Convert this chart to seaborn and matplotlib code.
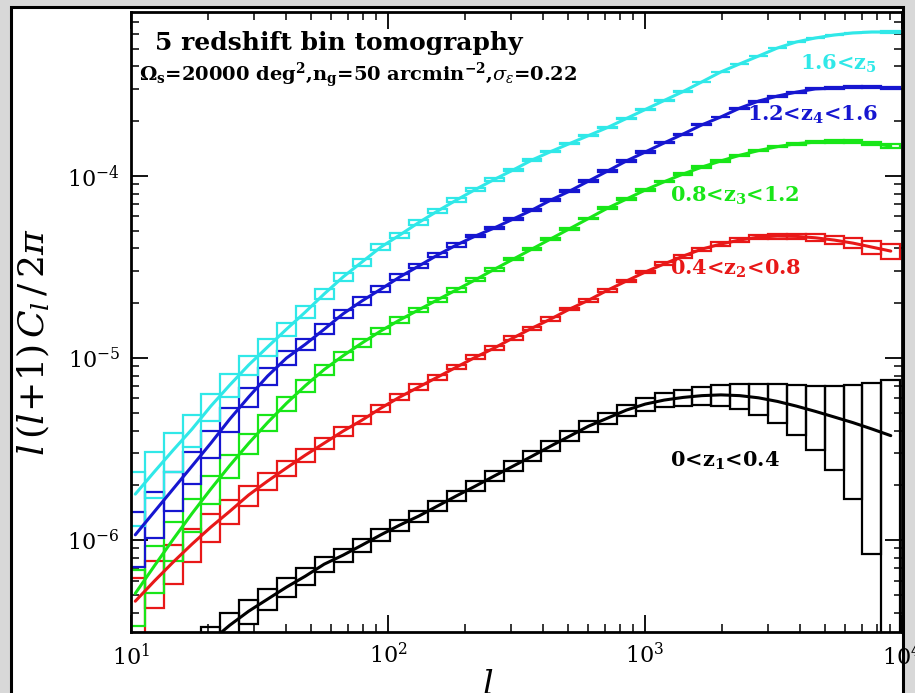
import numpy as np
import pandas as pd
import matplotlib
matplotlib.use("Agg")
import matplotlib.pyplot as plt
import seaborn as sns
from matplotlib.patches import Rectangle

# ---------------- data ----------------
# multipole bin edges (log-spaced bins)
l_edges = [9.55, 11.31, 13.40, 15.87, 18.79, 22.26, 26.36, 31.22, 36.98, 43.80,
           51.87, 61.43, 72.76, 86.18, 102.1, 120.9, 143.2, 169.6, 200.9, 237.9,
           281.8, 333.7, 395.3, 468.2, 554.5, 656.8, 777.7, 921.0, 1091, 1292,
           1530, 1812, 2147, 2542, 3011, 3566, 4224, 5001, 5923, 7016,
           8309, 9842]

# l(l+1)C_l/2pi per bin, for each redshift bin
cl_z1 = [1.24e-7, 1.52e-7, 1.86e-7, 2.28e-7, 2.79e-7, 3.41e-7, 4.07e-7, 4.74e-7, 5.52e-7, 6.34e-7,
         7.38e-7, 8.27e-7, 9.39e-7, 1.07e-6, 1.21e-6, 1.355e-6, 1.54e-6, 1.75e-6, 1.98e-6, 2.25e-6,
         2.55e-6, 2.89e-6, 3.29e-6, 3.73e-6, 4.23e-6, 4.68e-6, 5.18e-6, 5.59e-6, 5.88e-6, 6.08e-6,
         6.22e-6, 6.28e-6, 6.22e-6, 6.05e-6, 5.78e-6, 5.45e-6, 5.10e-6, 4.75e-6, 4.42e-6, 4.08e-6,
         3.75e-6]
cl_z2 = [4.62e-7, 5.95e-7, 7.57e-7, 9.51e-7, 1.18e-6, 1.44e-6, 1.77e-6, 2.11e-6, 2.49e-6, 2.93e-6,
         3.41e-6, 3.97e-6, 4.56e-6, 5.31e-6, 6.11e-6, 6.93e-6, 7.86e-6, 8.92e-6, 1.01e-5, 1.135e-5,
         1.29e-5, 1.46e-5, 1.64e-5, 1.86e-5, 2.08e-5, 2.36e-5, 2.65e-5, 2.97e-5, 3.29e-5, 3.63e-5,
         3.97e-5, 4.23e-5, 4.45e-5, 4.62e-5, 4.68e-5, 4.66e-5, 4.58e-5, 4.45e-5, 4.28e-5, 4.07e-5,
         3.87e-5]
cl_z3 = [5.1e-7, 7.2e-7, 1.01e-6, 1.40e-6, 1.91e-6, 2.57e-6, 3.40e-6, 4.42e-6, 5.64e-6, 7.05e-6,
         8.65e-6, 1.03e-5, 1.21e-5, 1.41e-5, 1.62e-5, 1.84e-5, 2.09e-5, 2.37e-5, 2.69e-5, 3.07e-5,
         3.49e-5, 3.97e-5, 4.52e-5, 5.14e-5, 5.85e-5, 6.66e-5, 7.47e-5, 8.38e-5, 9.3e-5, 1.025e-4,
         1.12e-4, 1.21e-4, 1.30e-4, 1.38e-4, 1.45e-4, 1.505e-4, 1.535e-4, 1.545e-4, 1.54e-4, 1.51e-4,
         1.46e-4]
cl_z4 = [1.07e-6, 1.43e-6, 1.91e-6, 2.55e-6, 3.41e-6, 4.62e-6, 6.11e-6, 7.96e-6, 1.00e-5, 1.19e-5,
         1.44e-5, 1.75e-5, 2.06e-5, 2.39e-5, 2.79e-5, 3.20e-5, 3.68e-5, 4.18e-5, 4.68e-5, 5.18e-5,
         5.80e-5, 6.50e-5, 7.38e-5, 8.27e-5, 9.39e-5, 1.065e-4, 1.21e-4, 1.355e-4, 1.52e-4, 1.70e-4,
         1.91e-4, 2.11e-4, 2.36e-4, 2.58e-4, 2.75e-4, 2.89e-4, 3.01e-4, 3.04e-4, 3.08e-4, 3.08e-4,
         3.04e-4]
cl_z5 = [1.79e-6, 2.37e-6, 3.12e-6, 4.07e-6, 5.45e-6, 7.11e-6, 9.16e-6, 1.15e-5, 1.44e-5, 1.79e-5,
         2.25e-5, 2.79e-5, 3.37e-5, 4.07e-5, 4.74e-5, 5.55e-5, 6.42e-5, 7.38e-5, 8.43e-5, 9.57e-5,
         1.079e-4, 1.224e-4, 1.363e-4, 1.509e-4, 1.669e-4, 1.847e-4, 2.07e-4, 2.32e-4, 2.60e-4, 2.91e-4,
         3.29e-4, 3.73e-4, 4.13e-4, 4.56e-4, 5.05e-4, 5.45e-4, 5.73e-4, 5.95e-4, 6.11e-4, 6.18e-4,
         6.18e-4]

# fractional sample-variance error per bin and shape-noise power per bin
cv_frac = [0.328, 0.278, 0.2357, 0.1992, 0.1686, 0.1426, 0.1206, 0.1020, 0.0862, 0.0728,
           0.0615, 0.0520, 0.0439, 0.0372, 0.0314, 0.0265, 0.0224, 0.0189, 0.01596, 0.01347,
           0.01137, 0.00961, 0.00811, 0.00685, 0.00578, 0.00488, 0.00412, 0.00348, 0.00294, 0.00248,
           0.00209, 0.00177, 0.00149, 0.00126, 0.00106, 0.000899, 0.000759, 0.000641, 0.000541, 0.000457,
           0.000386]
noise_pow = [1.31e-8, 1.84e-8, 2.58e-8, 3.62e-8, 5.07e-8, 7.11e-8, 9.98e-8, 1.40e-7, 1.96e-7, 2.76e-7,
             3.87e-7, 5.43e-7, 7.61e-7, 1.07e-6, 1.50e-6, 2.10e-6, 2.95e-6, 4.13e-6, 5.80e-6, 8.13e-6,
             1.14e-5, 1.60e-5, 2.25e-5, 3.15e-5, 4.42e-5, 6.20e-5, 8.70e-5, 1.22e-4, 1.71e-4, 2.40e-4,
             3.37e-4, 4.72e-4, 6.63e-4, 9.30e-4, 1.30e-3, 1.83e-3, 2.57e-3, 3.60e-3, 5.05e-3, 7.09e-3,
             9.94e-3]

series = [cl_z1, cl_z2, cl_z3, cl_z4, cl_z5]
labels = [r"0<z$_\mathbf{1}$<0.4", r"0.4<z$_\mathbf{2}$<0.8", r"0.8<z$_\mathbf{3}$<1.2",
          r"1.2<z$_\mathbf{4}$<1.6", r"1.6<z$_\mathbf{5}$"]
colors = ["#000000", "#e81818", "#18e618", "#1616d0", "#30e8e8"]
label_pos = [(1250, 2.72e-6), (1250, 3.08e-5), (1250, 7.76e-5), (2495, 2.16e-4), (4010, 4.12e-4)]

# ---------------- plotting ----------------
sns.set_theme(style="ticks")
plt.rcParams["font.family"] = ["DejaVu Serif"]
plt.rcParams["mathtext.fontset"] = "dejavuserif"
plt.rcParams["text.color"] = "black"
plt.rcParams["axes.labelcolor"] = "black"
plt.rcParams["xtick.color"] = "black"
plt.rcParams["ytick.color"] = "black"

W, H = 915, 693
fig = plt.figure(figsize=(W / 100, H / 100), dpi=100, facecolor="#d8d8d8")
fig.patches.append(Rectangle((11 / W, -0.05), (903 - 11) / W, 1.05 - 7 / H,
                             transform=fig.transFigure, facecolor="white",
                             edgecolor="black", linewidth=2.2, zorder=-5))
ax = fig.add_axes([131 / W, 61 / H, 771 / W, 620 / H])
ax.set_facecolor("white")

edges = np.array(l_edges)
lo_e, hi_e = edges[:-1], edges[1:]
l_mid = np.sqrt(lo_e * hi_e)
cv = np.array(cv_frac)
npow = np.array(noise_pow)

for cl, col in zip(series, colors):
    cl = np.array(cl)
    sig = cv * (cl + npow)
    bottom = np.clip(cl - sig, 1e-10, None)
    top = cl + sig
    ax.bar(lo_e, top - bottom, width=hi_e - lo_e, bottom=bottom, align="edge",
           fill=False, edgecolor=col, linewidth=1.6, zorder=2)
    df = pd.DataFrame({"l": l_mid, "cl": cl})
    sns.lineplot(data=df, x="l", y="cl", color=col, linewidth=2.2, ax=ax,
                 estimator=None, sort=False, zorder=3)

ax.set_xscale("log")
ax.set_yscale("log")
ax.set_xlim(10, 1e4)
ax.set_ylim(3.13e-7, 7.96e-4)

for (x, y), lab, col in zip(label_pos, labels, colors):
    ax.text(x, y, lab, color=col, fontsize=15, fontweight="bold", ha="left", va="center", zorder=5)

ax.text(0.031, 0.95, "5 redshift bin tomography", transform=ax.transAxes,
        fontsize=18, fontweight="bold", ha="left", va="center", color="black")
ax.text(0.011, 0.898,
        r"$\mathbf{\Omega_s}$=20000 deg$^\mathbf{2}$,n$_\mathbf{g}$=50 arcmin$^\mathbf{-2}$,$\sigma_\epsilon$=0.22",
        transform=ax.transAxes, fontsize=14, fontweight="bold", ha="left", va="center", color="black")

ax.tick_params(which="both", direction="in", top=True, right=True, colors="black")
ax.tick_params(which="major", length=12, width=1.3, labelsize=16, pad=8)
ax.tick_params(which="minor", length=6, width=1.1)
for s in ax.spines.values():
    s.set_linewidth(2)
    s.set_color("black")

ax.set_xlabel(r"$l$", fontsize=24)
ax.set_ylabel(r"$l\,(l\!+\!1)\,C_l\,/\,2\pi$", fontsize=26)
ax.xaxis.set_label_coords(0.463, -0.06)
ax.yaxis.set_label_coords(-0.102, 0.468)
ax.xaxis.label.set_va("top")

fig.savefig("out.png", dpi=100, facecolor=fig.get_facecolor())
